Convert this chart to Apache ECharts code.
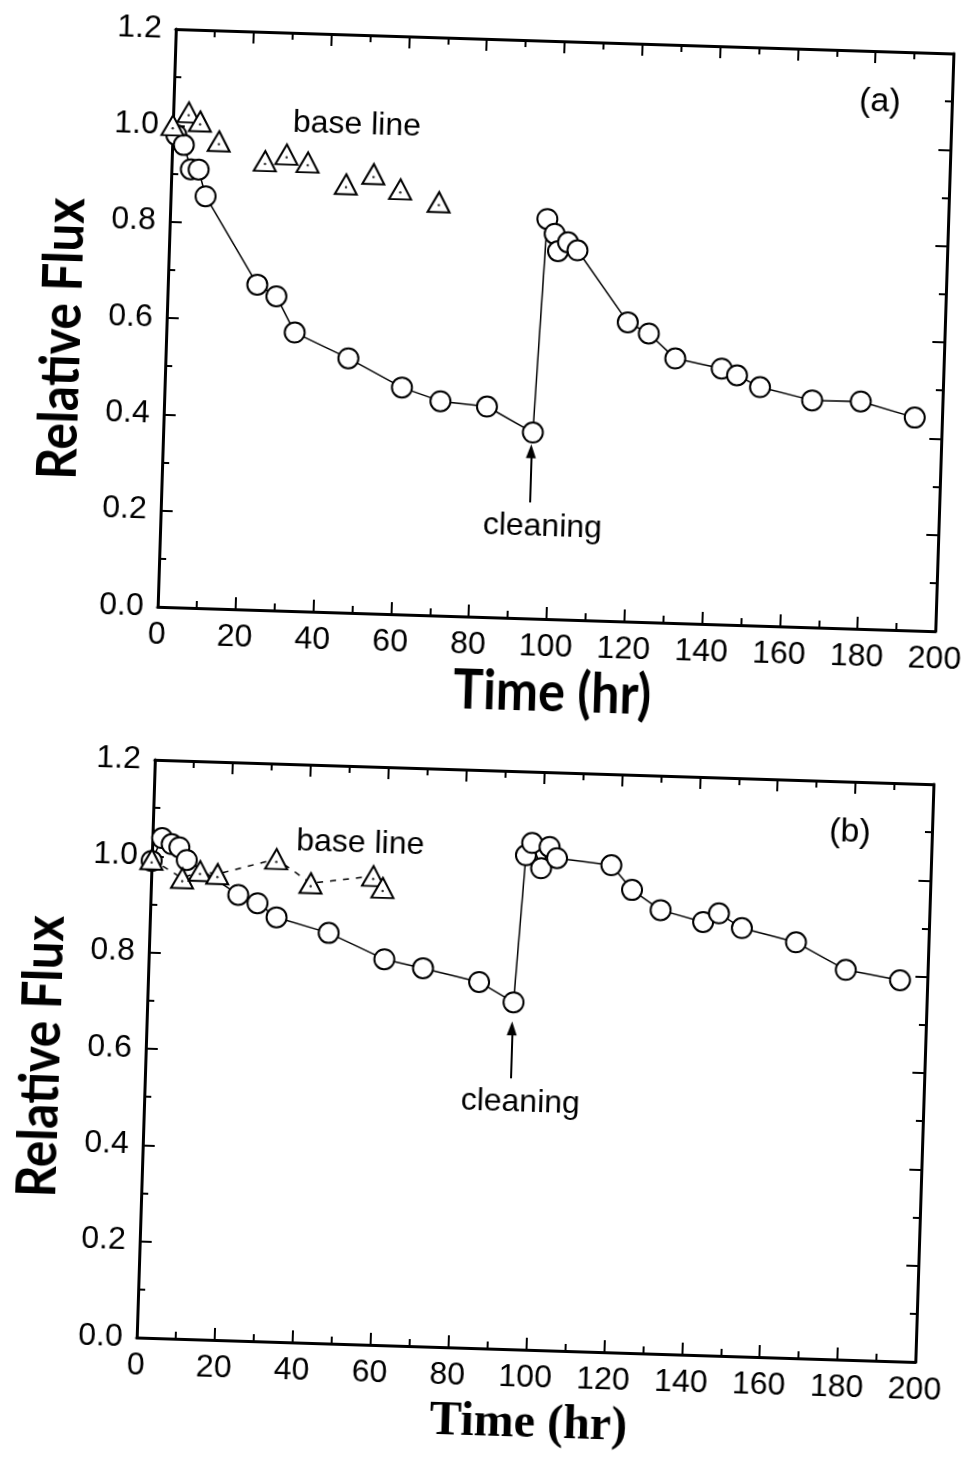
<!DOCTYPE html>
<html>
<head>
<meta charset="utf-8">
<script src="https://cdn.jsdelivr.net/npm/echarts@6.0.0/dist/echarts.min.js"></script>
<style>
  html, body { margin: 0; padding: 0; background: #fff; overflow: hidden; }
  #chart { width: 962px; height: 1457px; transform: rotate(1.8deg); transform-origin: 50% 50%; }
</style>
</head>
<body>
<div id="chart"></div>
<script>
// panel (a) - relative flux, cleaning at ~95 hr
const timeA = [1, 3, 5, 7, 9, 23, 28, 33, 47, 61, 71, 83, 95,
  97, 99, 100, 102.5, 105, 118.5, 124, 131, 143, 147, 153, 166.5, 179, 193];
const fluxA = [0.98, 0.96, 0.91, 0.91, 0.855, 0.675, 0.652, 0.578, 0.528, 0.471, 0.445, 0.437, 0.386,
  0.83, 0.80, 0.764, 0.783, 0.767, 0.621, 0.599, 0.549, 0.531, 0.518, 0.495, 0.471, 0.472, 0.442];
const baseTimeA = [0, 4, 7, 12, 24, 29.5, 35, 45, 52, 59, 69];
const baseFluxA = [1.0, 1.028, 1.01, 0.97, 0.932, 0.947, 0.932, 0.889, 0.912, 0.882, 0.858];

// panel (b)
const timeB = [0, 2.5, 5, 7, 9, 22.5, 27.5, 32.5, 46, 60.5, 70.5, 85, 94,
  96, 97.5, 100, 102, 104, 118, 123.5, 131, 142, 146, 152, 166, 179, 193];
const fluxB = [0.99, 1.038, 1.026, 1.02, 0.994, 0.925, 0.909, 0.881, 0.852, 0.801, 0.785, 0.76, 0.72,
  1.026, 1.052, 1.0, 1.045, 1.022, 1.011, 0.961, 0.921, 0.899, 0.918, 0.889, 0.863, 0.809, 0.791];
const baseTimeB = [0, 8, 12.5, 17, 32, 41, 57, 59.5];
const baseFluxB = [0.993, 0.956, 0.972, 0.967, 1.002, 0.954, 0.973, 0.949];

// cleaning arrows (tail, tip) in data units
const cleanA = [[94.7, 0.241], [94.7, 0.347]];
const cleanB = [[93.8, 0.562], [93.8, 0.666]];

const xTicks = { min: 0, max: 200, interval: 20 };
const yTicks = { min: 0, max: 1.2, interval: 0.2 };

const zip = (xs, ys) => xs.map((x, i) => [x, ys[i]]);

const tickFont = 'Liberation Sans, Arial, sans-serif';
const lineBlack = { color: '#000', width: 3 };

function axisPair(kind, g) {
  const lim = kind === 'x' ? xTicks : yTicks;
  const pos = kind === 'x' ? ['bottom', 'top'] : ['left', 'right'];
  return pos.map((p, k) => ({
    gridIndex: g,
    type: 'value',
    position: p,
    min: lim.min, max: lim.max, interval: lim.interval,
    axisLine: { show: true, onZero: false, lineStyle: lineBlack },
    axisTick: { show: true, inside: true, length: 12, lineStyle: { color: '#000', width: 2 } },
    minorTick: { show: true, splitNumber: 2, length: 7, lineStyle: { color: '#000', width: 2 } },
    splitLine: { show: false },
    minorSplitLine: { show: false },
    axisLabel: {
      show: k === 0,
      color: '#000',
      fontSize: 32,
      fontFamily: tickFont,
      margin: kind === 'x' ? 12 : 14,
      formatter: kind === 'x' ? (v => String(v)) : (v => v.toFixed(1))
    }
  }));
}

function circleSeries(g, data, clean) {
  return {
    type: 'line',
    xAxisIndex: g * 2, yAxisIndex: g * 2,
    data: data,
    symbol: 'circle',
    symbolSize: 20,
    showAllSymbol: true,
    itemStyle: { color: '#fff', borderColor: '#000', borderWidth: 2 },
    lineStyle: { color: '#000', width: 1.5 },
    z: 3,
    markLine: {
      silent: true,
      symbol: ['none', 'triangle'],
      symbolSize: [10, 14],
      lineStyle: { color: '#000', width: 2, type: 'solid' },
      label: { show: false },
      data: [[{ coord: clean[0] }, { coord: clean[1] }]]
    }
  };
}

function triangleSeries(g, data, dashed) {
  return [{
    type: 'line',
    xAxisIndex: g * 2, yAxisIndex: g * 2,
    data: data,
    symbol: 'triangle',
    symbolSize: [22, 20],
    showAllSymbol: true,
    itemStyle: { color: '#fff', borderColor: '#000', borderWidth: 2 },
    lineStyle: dashed ? { color: '#000', width: 1.5, type: [6, 7] } : { opacity: 0 },
    z: 4
  }, {
    type: 'scatter',
    xAxisIndex: g * 2, yAxisIndex: g * 2,
    data: data,
    symbol: 'circle',
    symbolSize: 2.5,
    symbolOffset: [0, 3],
    itemStyle: { color: '#000' },
    z: 5
  }];
}

function txt(text, x, y, font, rot, sx, sy) {
  return {
    type: 'text', x: x, y: y, rotation: rot || 0, silent: true,
    scaleX: sx || 1, scaleY: sy || 1,
    style: { text: text, font: font, fill: '#000', align: 'center', verticalAlign: 'middle' }
  };
}

const nameFont = 'bold 56px Lato, "DejaVu Sans Condensed", sans-serif';
const serifName = 'bold 48px "Liberation Serif", "DejaVu Serif", serif';
const annFont = '32px Liberation Sans, Arial, sans-serif';

const chart = echarts.init(document.getElementById('chart'), null, { renderer: 'canvas' });
chart.setOption({
  animation: false,
  backgroundColor: '#fff',
  grid: [
    { left: 154, top: 39, width: 778, height: 578, outerBoundsMode: 'none', containLabel: false },
    { left: 156, top: 770, width: 779, height: 578, outerBoundsMode: 'none', containLabel: false }
  ],
  xAxis: [...axisPair('x', 0), ...axisPair('x', 1)],
  yAxis: [...axisPair('y', 0), ...axisPair('y', 1)],
  series: [
    circleSeries(0, zip(timeA, fluxA), cleanA),
    ...triangleSeries(0, zip(baseTimeA, baseFluxA), false),
    circleSeries(1, zip(timeB, fluxB), cleanB),
    ...triangleSeries(1, zip(baseTimeB, baseFluxB), true)
  ],
  graphic: [
    txt('(a)', 860, 90, '34px Liberation Sans, Arial, sans-serif'),
    txt('(b)', 853, 821, '34px Liberation Sans, Arial, sans-serif'),
    txt('base line', 338, 129, annFont),
    txt('base line', 364, 847, annFont),
    txt('cleaning', 536, 525, annFont),
    txt('cleaning', 532, 1101, annFont),
    txt('Time (hr)', 551, 691, nameFont, 0, 0.9, 1),
    txt('Time (hr)', 550, 1423, serifName),
    txt('Relative Flux', 50, 352, nameFont, Math.PI / 2, 0.88, 1),
    txt('Relative Flux', 52, 1070, nameFont, Math.PI / 2, 0.88, 1)
  ]
});
</script>
</body>
</html>
